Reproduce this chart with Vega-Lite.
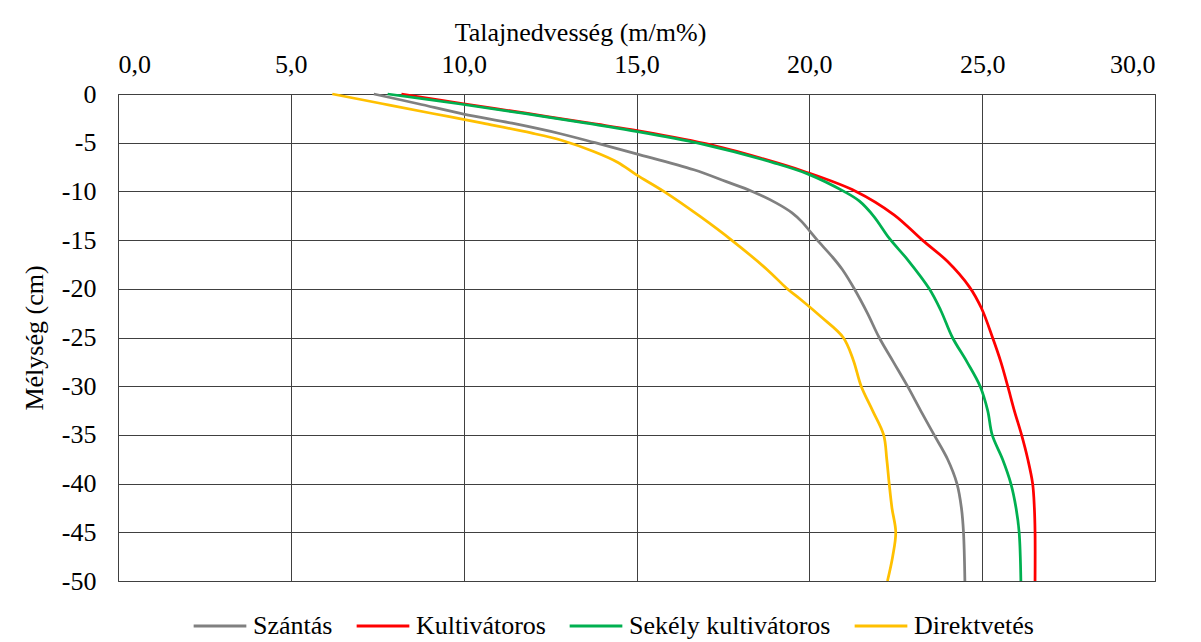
{
  "$schema": "https://vega.github.io/schema/vega-lite/v6.json",
  "width": 1037,
  "height": 487,
  "autosize": {"type": "none"},
  "padding": {"left": 118, "top": 94, "right": 46, "bottom": 61},
  "background": "white",
  "config": {
    "font": "Liberation Serif",
    "view": {"stroke": "#404040", "strokeWidth": 1},
    "axis": {"labelFont": "Liberation Serif", "titleFont": "Liberation Serif", "labelColor": "#000", "titleColor": "#000", "labelFontSize": 26, "titleFontSize": 26, "titleFontWeight": "normal", "gridColor": "#404040", "gridWidth": 1, "gridOpacity": 1, "ticks": false, "tickSize": 0, "domain": false},
    "legend": {"labelFont": "Liberation Serif", "labelFontSize": 26, "labelColor": "#000"}
  },
  "data": {
    "values": [
      {"s": "Szántás", "d": 0, "x": 7.4},
      {"s": "Szántás", "d": -1, "x": 8.68},
      {"s": "Szántás", "d": -2.06, "x": 10.0},
      {"s": "Szántás", "d": -3, "x": 11.4},
      {"s": "Szántás", "d": -4.08, "x": 12.8},
      {"s": "Szántás", "d": -5, "x": 13.8},
      {"s": "Szántás", "d": -6.14, "x": 15.0},
      {"s": "Szántás", "d": -7.78, "x": 16.66},
      {"s": "Szántás", "d": -9, "x": 17.6},
      {"s": "Szántás", "d": -10, "x": 18.35},
      {"s": "Szántás", "d": -11.2, "x": 19.05},
      {"s": "Szántás", "d": -12.2, "x": 19.5},
      {"s": "Szántás", "d": -13.1, "x": 19.78},
      {"s": "Szántás", "d": -14.1, "x": 20.02},
      {"s": "Szántás", "d": -15, "x": 20.23},
      {"s": "Szántás", "d": -16.7, "x": 20.66},
      {"s": "Szántás", "d": -18, "x": 20.95},
      {"s": "Szántás", "d": -20, "x": 21.3},
      {"s": "Szántás", "d": -22.5, "x": 21.68},
      {"s": "Szántás", "d": -25, "x": 22.02},
      {"s": "Szántás", "d": -27.5, "x": 22.43},
      {"s": "Szántás", "d": -30, "x": 22.84},
      {"s": "Szántás", "d": -32.5, "x": 23.22},
      {"s": "Szántás", "d": -35, "x": 23.61},
      {"s": "Szántás", "d": -37.5, "x": 24.0},
      {"s": "Szántás", "d": -40, "x": 24.27},
      {"s": "Szántás", "d": -42.5, "x": 24.4},
      {"s": "Szántás", "d": -45, "x": 24.46},
      {"s": "Szántás", "d": -50, "x": 24.5},

      {"s": "Kultivátoros", "d": 0, "x": 8.2},
      {"s": "Kultivátoros", "d": -1, "x": 10.0},
      {"s": "Kultivátoros", "d": -2, "x": 11.85},
      {"s": "Kultivátoros", "d": -3, "x": 13.65},
      {"s": "Kultivátoros", "d": -3.65, "x": 14.85},
      {"s": "Kultivátoros", "d": -5.1, "x": 17.0},
      {"s": "Kultivátoros", "d": -6.58, "x": 18.59},
      {"s": "Kultivátoros", "d": -7.95, "x": 19.85},
      {"s": "Kultivátoros", "d": -10, "x": 21.35},
      {"s": "Kultivátoros", "d": -12.4, "x": 22.45},
      {"s": "Kultivátoros", "d": -15, "x": 23.27},
      {"s": "Kultivátoros", "d": -17.2, "x": 24.0},
      {"s": "Kultivátoros", "d": -19.8, "x": 24.63},
      {"s": "Kultivátoros", "d": -22, "x": 24.98},
      {"s": "Kultivátoros", "d": -25, "x": 25.3},
      {"s": "Kultivátoros", "d": -27.5, "x": 25.54},
      {"s": "Kultivátoros", "d": -30, "x": 25.74},
      {"s": "Kultivátoros", "d": -32.5, "x": 25.93},
      {"s": "Kultivátoros", "d": -35, "x": 26.14},
      {"s": "Kultivátoros", "d": -37.5, "x": 26.32},
      {"s": "Kultivátoros", "d": -40, "x": 26.46},
      {"s": "Kultivátoros", "d": -42.5, "x": 26.51},
      {"s": "Kultivátoros", "d": -45, "x": 26.53},
      {"s": "Kultivátoros", "d": -50, "x": 26.53},

      {"s": "Sekély kultivátoros", "d": 0, "x": 7.8},
      {"s": "Sekély kultivátoros", "d": -1, "x": 9.85},
      {"s": "Sekély kultivátoros", "d": -2, "x": 11.75},
      {"s": "Sekély kultivátoros", "d": -3, "x": 13.55},
      {"s": "Sekély kultivátoros", "d": -3.75, "x": 14.85},
      {"s": "Sekély kultivátoros", "d": -5.1, "x": 16.85},
      {"s": "Sekély kultivátoros", "d": -7.09, "x": 19.0},
      {"s": "Sekély kultivátoros", "d": -8.2, "x": 19.95},
      {"s": "Sekély kultivátoros", "d": -10, "x": 21.0},
      {"s": "Sekély kultivátoros", "d": -11, "x": 21.45},
      {"s": "Sekély kultivátoros", "d": -12.58, "x": 21.87},
      {"s": "Sekély kultivátoros", "d": -14.8, "x": 22.31},
      {"s": "Sekély kultivátoros", "d": -17, "x": 22.84},
      {"s": "Sekély kultivátoros", "d": -20, "x": 23.47},
      {"s": "Sekély kultivátoros", "d": -22.2, "x": 23.8},
      {"s": "Sekély kultivátoros", "d": -25, "x": 24.14},
      {"s": "Sekély kultivátoros", "d": -27.5, "x": 24.56},
      {"s": "Sekély kultivátoros", "d": -30, "x": 24.94},
      {"s": "Sekély kultivátoros", "d": -32.5, "x": 25.16},
      {"s": "Sekély kultivátoros", "d": -35, "x": 25.29},
      {"s": "Sekély kultivátoros", "d": -37.5, "x": 25.59},
      {"s": "Sekély kultivátoros", "d": -40, "x": 25.83},
      {"s": "Sekély kultivátoros", "d": -42.5, "x": 25.98},
      {"s": "Sekély kultivátoros", "d": -45, "x": 26.07},
      {"s": "Sekély kultivátoros", "d": -50, "x": 26.12},

      {"s": "Direktvetés", "d": 0, "x": 6.2},
      {"s": "Direktvetés", "d": -1, "x": 7.65},
      {"s": "Direktvetés", "d": -2, "x": 9.1},
      {"s": "Direktvetés", "d": -3, "x": 10.55},
      {"s": "Direktvetés", "d": -4, "x": 11.95},
      {"s": "Direktvetés", "d": -4.77, "x": 12.85},
      {"s": "Direktvetés", "d": -5.9, "x": 13.76},
      {"s": "Direktvetés", "d": -7, "x": 14.45},
      {"s": "Direktvetés", "d": -8.3, "x": 15.0},
      {"s": "Direktvetés", "d": -10, "x": 15.79},
      {"s": "Direktvetés", "d": -12.6, "x": 16.85},
      {"s": "Direktvetés", "d": -15, "x": 17.75},
      {"s": "Direktvetés", "d": -18.06, "x": 18.79},
      {"s": "Direktvetés", "d": -20, "x": 19.36},
      {"s": "Direktvetés", "d": -21.1, "x": 19.75},
      {"s": "Direktvetés", "d": -22.85, "x": 20.33},
      {"s": "Direktvetés", "d": -25, "x": 20.98},
      {"s": "Direktvetés", "d": -27.3, "x": 21.27},
      {"s": "Direktvetés", "d": -30, "x": 21.5},
      {"s": "Direktvetés", "d": -32.5, "x": 21.83},
      {"s": "Direktvetés", "d": -35, "x": 22.15},
      {"s": "Direktvetés", "d": -37.5, "x": 22.24},
      {"s": "Direktvetés", "d": -40, "x": 22.31},
      {"s": "Direktvetés", "d": -42.5, "x": 22.39},
      {"s": "Direktvetés", "d": -45, "x": 22.5},
      {"s": "Direktvetés", "d": -47.5, "x": 22.41},
      {"s": "Direktvetés", "d": -50, "x": 22.26}
    ]
  },
  "mark": {"type": "line", "interpolate": "catmull-rom", "strokeWidth": 2.75},
  "encoding": {
    "x": {
      "field": "x", "type": "quantitative",
      "scale": {"domain": [0, 30], "nice": false, "zero": false},
      "axis": {
        "orient": "top", "values": [0, 5, 10, 15, 20, 25, 30],
        "labelExpr": "replace(format(datum.value, '.1f'), '.', ',')",
        "labelFont": "Liberation Serif", "labelFontSize": 26,
        "labelPadding": 21.6, "labelBaseline": "alphabetic",
        "title": "Talajnedvesség (m/m%)",
        "titleFont": "Liberation Serif",
        "titleX": 462, "titleY": -54, "titleBaseline": "alphabetic", "titleAlign": "center", "titleAnchor": null
      }
    },
    "y": {
      "field": "d", "type": "quantitative",
      "scale": {"domain": [-50, 0], "nice": false, "zero": false},
      "axis": {
        "values": [0, -5, -10, -15, -20, -25, -30, -35, -40, -45, -50],
        "labelExpr": "'' + datum.value",
        "labelFont": "Liberation Serif", "labelFontSize": 26,
        "labelPadding": 22,
        "title": "Mélység (cm)",
        "titleFont": "Liberation Serif",
        "titleX": -76, "titleBaseline": "alphabetic"
      }
    },
    "color": {
      "field": "s", "type": "nominal",
      "scale": {
        "domain": ["Szántás", "Kultivátoros", "Sekély kultivátoros", "Direktvetés"],
        "range": ["#808080", "#FF0000", "#00B050", "#FFC000"]
      },
      "legend": {
        "title": null, "orient": "none", "direction": "horizontal",
        "legendX": 74, "legendY": 504,
        "labelFont": "Liberation Serif", "labelFontSize": 26, "labelLimit": 500,
        "symbolType": "stroke", "symbolSize": 2777, "symbolStrokeWidth": 3,
        "labelOffset": 5, "columnPadding": 17
      }
    },
    "order": {"field": "d", "type": "quantitative", "sort": "descending"}
  }
}
